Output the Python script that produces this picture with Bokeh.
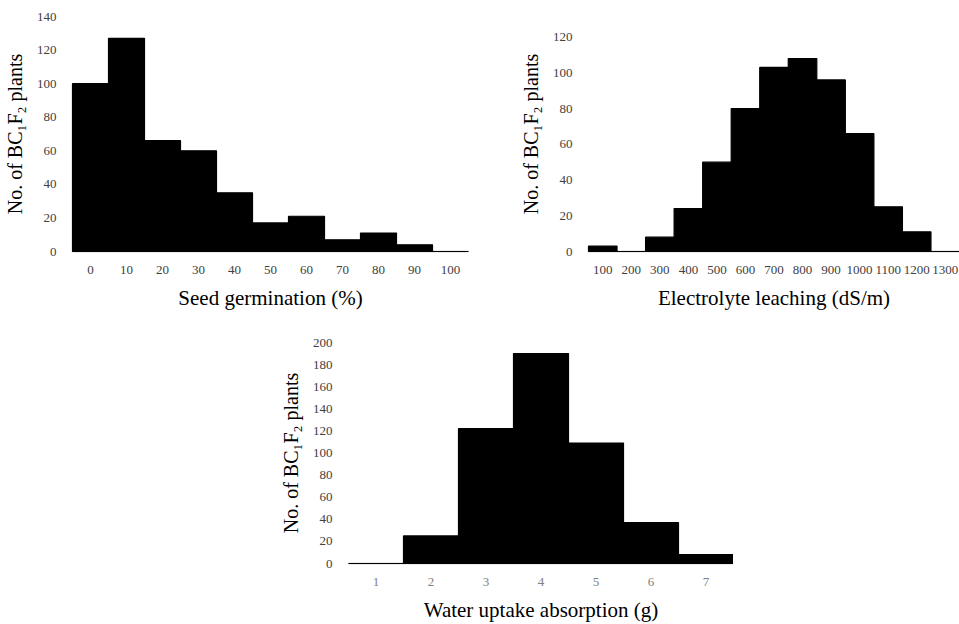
from bokeh.plotting import figure
from bokeh.layouts import column, row
from bokeh.models import FactorRange, Range1d, FixedTicker
from bokeh.embed import file_html
from bokeh.resources import INLINE

# ---- data ----
germ_bins = ["0", "10", "20", "30", "40", "50", "60", "70", "80", "90", "100"]
germ_counts = [100, 127, 66, 60, 35, 17, 21, 7, 11, 4, 0]

el_bins = ["100", "200", "300", "400", "500", "600", "700", "800", "900",
           "1000", "1100", "1200", "1300"]
el_counts = [3, 0, 8, 24, 50, 80, 103, 108, 96, 66, 25, 11, 0]

water_bins = ["1", "2", "3", "4", "5", "6", "7"]
water_counts = [0, 25, 122, 190, 109, 37, 8]

y_title = "No. of BC\u2081F\u2082 plants"
FONT = "Liberation Serif, Times New Roman, serif"


def make_hist(bins, counts, ymax, yend, xtitle, width, height, bl, bt, br, bb,
              xtick_color="#404040"):
    p = figure(x_range=FactorRange(*bins), y_range=Range1d(0, yend),
               width=width, height=height, output_backend="svg",
               toolbar_location=None, min_border_left=bl, min_border_top=bt,
               min_border_right=br, min_border_bottom=bb)
    p.vbar(x=bins, top=counts, width=1.0, fill_color="black",
           line_color="black", line_width=1.2, level="overlay")
    p.outline_line_color = None
    p.grid.visible = False
    p.background_fill_color = "white"
    p.border_fill_color = "white"

    p.yaxis.ticker = FixedTicker(ticks=list(range(0, ymax + 1, 20)))
    p.yaxis.axis_line_color = None
    p.xaxis.axis_line_color = "#b0b0b0"
    p.xaxis.axis_line_width = 1.5
    for ax in (p.xaxis[0], p.yaxis[0]):
        ax.major_tick_line_color = None
        ax.minor_tick_line_color = None
        ax.major_label_text_font = FONT
        ax.major_label_text_font_size = "13px"
        ax.axis_label_text_font = FONT
        ax.axis_label_text_font_style = "normal"
        ax.axis_label_text_color = "black"
    p.yaxis.axis_label_text_font_size = "20px"
    p.xaxis.axis_label_text_font_size = "21px"
    p.yaxis.axis_label_standoff = 8
    p.xaxis.axis_label_standoff = 9
    p.yaxis.major_label_text_color = "#404040"
    p.xaxis.major_label_text_color = xtick_color
    p.yaxis.major_label_standoff = 10
    p.xaxis.major_label_standoff = 8
    p.xaxis.axis_label = xtitle
    p.yaxis.axis_label = y_title
    return p


p1 = make_hist(germ_bins, germ_counts, 140, 140, "Seed germination (%)",
               480, 312, 72, 16, 12, 56)
p2 = make_hist(el_bins, el_counts, 120, 131.5, "Electrolyte leaching (dS/m)",
               479, 312, 108, 16, 0, 56)
p3 = make_hist(water_bins, water_counts, 200, 200, "Water uptake absorption (g)",
               733, 312, 348, 30, 0, 57, xtick_color="#808080")

layout = column(row(p1, p2), p3)

open("out.html", "w").write(file_html(layout, INLINE))
